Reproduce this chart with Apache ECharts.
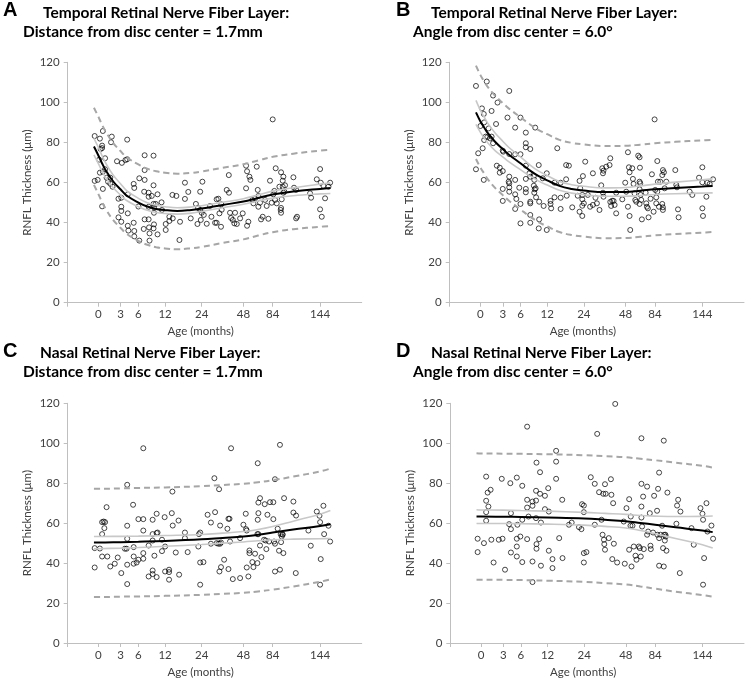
<!DOCTYPE html>
<html><head><meta charset="utf-8">
<script src="https://cdn.jsdelivr.net/npm/echarts@6/dist/echarts.min.js"></script>
<style>html,body{margin:0;padding:0;background:#fff}#c{width:747px;height:679px}</style>
</head><body><div id="c"></div>
<script>
// ---- axis definition (age in months, non-linear axis as in the figure) ----
const tickAges = [0, 3, 6, 12, 24, 48, 84, 144];
const tickLabels = ['0', '3', '6', '12', '24', '48', '84', '144'];
const tickPos = [0, 22.3, 40, 66.7, 103.3, 145, 174.3, 221.7];
const axisMin = -30.7, axisMax = 263.3;
const yTicks = [0, 20, 40, 60, 80, 100, 120];

// ---- titles ----
const panelLetters = ['A', 'B', 'C', 'D'];
const titleLine1 = ['Temporal Retinal Nerve Fiber Layer:', 'Temporal Retinal Nerve Fiber Layer:', 'Nasal Retinal Nerve Fiber Layer:', 'Nasal Retinal Nerve Fiber Layer:'];
const titleLine2 = ['Distance from disc center = 1.7mm', 'Angle from disc center = 6.0°', 'Distance from disc center = 1.7mm', 'Angle from disc center = 6.0°'];
const yName = 'RNFL Thickness (μm)';
const xName = 'Age (months)';

// ---- fitted curves (age grid + values) ----
const gridAB = [-0.6, 0, 0.5, 1, 2, 3, 4, 6, 8, 10, 12, 16, 20, 24, 36, 48, 66, 84, 110, 144, 157];
const gridCD = [-0.6, 0, 3, 6, 12, 24, 36, 48, 66, 84, 110, 144, 157];

const fitA = [78, 73.5, 69.5, 66, 60.5, 56.5, 53.5, 50, 48, 46.8, 46.2, 45.8, 46.2, 47, 48.8, 50.5, 52.3, 54, 55.5, 56.8, 57.2];
const ciUpA = [82, 77.5, 73.3, 69.6, 63.6, 59.3, 56, 52.1, 49.9, 48.6, 47.9, 47.4, 47.7, 48.4, 50.1, 51.9, 53.8, 55.7, 57.4, 59.2, 59.8];
const ciLoA = [73.8, 69.4, 65.7, 62.4, 57.4, 53.7, 51, 47.9, 46.1, 45, 44.5, 44.2, 44.6, 45.5, 47.4, 49.1, 50.8, 52.2, 53.4, 54.3, 54.5];
const piUpA = [97.3, 92.8, 88.8, 85.3, 79.7, 75.6, 72.6, 69, 66.9, 65.6, 64.9, 64.4, 64.7, 65.5, 67.3, 69.1, 71, 72.8, 74.4, 75.9, 76.3];
const piLoA = [58.8, 54.2, 50.2, 46.7, 41.2, 37.3, 34.4, 30.9, 28.9, 27.7, 27.1, 26.7, 27.1, 27.9, 29.8, 31.6, 33.5, 35.2, 36.7, 37.9, 38.3];

const fitB = [95, 90.5, 87.5, 84.6, 80.2, 76.7, 74, 69.6, 66.2, 63.3, 61.1, 58.3, 56.8, 56, 55.2, 55.3, 55.9, 56.6, 57.3, 58, 58.3];
const ciUpB = [101, 96, 92.7, 89.5, 84.6, 80.6, 77.6, 72.8, 69, 65.8, 63.5, 60.5, 58.9, 58.1, 57.3, 57.5, 58.3, 59.2, 60.2, 61.3, 61.8];
const ciLoB = [89, 85, 82.3, 79.7, 75.8, 72.8, 70.4, 66.4, 63.4, 60.8, 58.7, 56.1, 54.7, 53.9, 53.1, 53.1, 53.5, 54, 54.4, 54.7, 54.8];
const piUpB = [118.3, 113.6, 110.5, 107.6, 103.2, 99.7, 97, 92.6, 89.2, 86.3, 84.1, 81.3, 79.8, 79, 78.2, 78.3, 78.9, 79.6, 80.3, 81, 81.3];
const piLoB = [71.7, 67.4, 64.5, 61.6, 57.2, 53.7, 51, 46.6, 43.2, 40.3, 38.1, 35.3, 33.8, 33, 32.2, 32.3, 32.9, 33.6, 34.3, 35, 35.3];

const fitC = [50.3, 50.3, 50.5, 50.7, 51.1, 51.9, 52.6, 53.3, 54.2, 55.3, 56.8, 58.6, 59.5];
const ciUpC = [53.3, 53.3, 53.4, 53.5, 53.8, 54.3, 55, 55.8, 56.8, 58.3, 61, 64.5, 66.3];
const ciLoC = [47.1, 47.2, 47.5, 47.8, 48.4, 49.3, 50, 50.6, 51.2, 51.7, 52, 52.2, 52.3];
const piUpC = [77.2, 77.2, 77.4, 77.6, 77.9, 78.5, 79.1, 79.7, 80.5, 81.5, 83.3, 85.9, 87.3];
const piLoC = [23, 23, 23.2, 23.3, 23.6, 24.1, 24.6, 25.1, 25.8, 26.7, 28.3, 30.7, 31.8];

const fitD = [63.3, 63.3, 63.2, 63.1, 62.8, 62.3, 61.7, 61, 60.1, 59.2, 57.9, 56.3, 55.5];
const ciUpD = [66.7, 66.6, 66.5, 66.3, 66, 65.4, 64.9, 64.4, 63.8, 63.5, 63.3, 63.4, 63.6];
const ciLoD = [59.8, 59.8, 59.8, 59.7, 59.5, 59, 58.4, 57.6, 56.3, 54.7, 52.3, 49.2, 47.5];
const piUpD = [95, 94.9, 94.8, 94.7, 94.5, 94, 93.5, 93, 92.2, 91.5, 90.3, 88.7, 87.8];
const piLoD = [31.7, 31.7, 31.6, 31.5, 31.2, 30.6, 30, 29.3, 28.3, 27.2, 25.7, 24, 23.2];

// ---- observations [age (months), RNFL thickness (µm)] ----
const ptsA = [[-0.5,83.2],[-0.5,60.8],[-0.1,61.3],[0.2,81.9],[0.3,76.7],[0.6,85.7],[0.5,78.4],[0.5,77.2],[1.7,80.1],[1.8,82.9],[0.9,72.1],[0.1,71.4],[0.2,64.9],[0.6,65.4],[0.9,66.6],[0.6,56.8],[0.5,48.1],[1.1,62.4],[1.3,60.4],[1.6,59.4],[1.9,57.9],[1.6,62.4],[2.5,70.6],[3.2,69.8],[3.8,71.2],[4.1,71.6],[4.1,81.4],[2.7,51.9],[3.1,52.4],[3.1,47.9],[3.1,45.8],[2.7,42.6],[3.1,40.4],[4.2,54.1],[4.2,44.6],[4.2,38.4],[4.3,36],[5.2,59.3],[5.3,57.3],[5.2,39.9],[5.3,35.8],[5.3,33.1],[6,48],[6.2,62.1],[6.2,31],[7.4,61.3],[7.4,73.6],[7.4,66.2],[7.3,55.4],[7.4,41.6],[7.2,36.8],[8.3,54.9],[8.3,52.9],[8.3,41.6],[8.4,37.6],[8.5,34.6],[8.5,31],[8.3,47.9],[9,53.3],[9.4,73.4],[9.4,58.6],[9.5,47.6],[9.4,49.3],[9.5,44.9],[9.9,49.3],[9.5,39.1],[9.4,37.1],[10.3,54.1],[10.3,34.1],[11.2,50.1],[11.3,46.3],[13.4,42.9],[12.2,39.3],[12.2,36.3],[13.4,40.8],[14.5,42.1],[14.4,53.8],[15.7,53.3],[16.7,31.3],[16.9,40.4],[18.5,59.9],[18.5,51.8],[19.6,55.3],[20.4,42.1],[22.1,49.3],[22.8,47.3],[22.6,39.3],[23.5,55.4],[23.7,41.3],[23.5,46.3],[24,44.9],[24.4,60.4],[25.2,43.8],[26.9,39.4],[28.8,48.3],[29.6,42.9],[31.7,39.9],[32.6,39.9],[32.6,51.6],[33.6,51.9],[34.2,44.6],[35.3,49.1],[35.5,46.4],[35.1,37.9],[38.4,56.3],[39.7,54.9],[39.6,63.7],[40.3,44.9],[40.9,42.3],[41.9,41.3],[42.8,39.6],[43.2,44.9],[44.2,39.3],[46.1,42.1],[47.6,44.6],[51.3,68.4],[52.5,65.6],[55.4,62.9],[56.6,61.3],[51.3,57.1],[52.5,38.4],[54.1,40.4],[59,51.3],[60.3,49.6],[62.3,52.1],[64.4,67.9],[65.6,56.3],[66.4,53.3],[66.4,47.9],[68.4,49.9],[69.7,41.6],[71.7,42.9],[74.6,51.3],[76.6,48.3],[78.7,41.9],[80.7,60.9],[82.8,49.9],[84,91.5],[84.8,54.1],[86.1,55.8],[87,51.3],[87.8,67.1],[89.1,49.6],[92.5,57.9],[94.1,46.3],[95.4,51.6],[94.6,65.1],[96.7,60.9],[97.5,62.9],[96.7,57.9],[97.5,54.9],[94.6,47.3],[94.6,44.9],[99.6,58.6],[98.8,55.4],[110.2,62.6],[111,57.4],[113.6,56.3],[113.6,42.1],[114.8,42.9],[139.8,61.6],[144,66.7],[144.8,59.9],[144,46.6],[146.1,42.9],[148.2,58.3],[150.3,52.1],[154.6,57.9],[156.7,59.9],[131.3,54.6],[132.6,52.4]];

const ptsB = [[-0.6,108.2],[0.85,110.4],[-0.3,74.6],[-0.6,66.6],[0,88.2],[0.2,97],[0.45,94.2],[0.5,90],[0.3,77.1],[0.45,61.3],[0.5,81.2],[0.7,82.9],[0.9,82.6],[1.1,87],[1.3,82],[1.5,82.9],[1.7,79.6],[1.5,95.7],[1.7,103.4],[2.1,89.2],[2.3,99.9],[2.2,68.4],[2.6,67.4],[2.6,64.9],[3,75.9],[3.1,75.4],[3,65.7],[3,56.8],[3,50.8],[3.8,92.4],[4.1,105.7],[4.1,74.2],[4.1,62.9],[4,60.4],[4.1,59.6],[4.1,57.6],[4.1,55.4],[5.1,74.1],[5.1,87.4],[5.1,61.3],[5.1,54.1],[5.3,51.8],[5.1,46.8],[6,74.1],[6,92.4],[5.8,57.4],[6,49.3],[6,39.6],[7.2,84.9],[7.2,79.6],[7.2,77.6],[7.2,68.4],[7.2,61.8],[7.2,56.8],[7.2,55.1],[8,64.6],[8.2,62.9],[8.2,76.7],[8.2,50.4],[8.2,49.6],[8.2,43.8],[8.2,39.9],[9,63.2],[9.1,61.3],[9,58.4],[9.2,56.6],[9.1,54.9],[9.3,87.4],[9.4,57.1],[9.5,52.6],[10.1,68.7],[10.2,41.6],[10.1,37.1],[10.2,50.4],[11,62.1],[11.2,48.3],[11.9,64.6],[11.9,36.3],[13.1,50.8],[13.1,49.3],[13.3,47.1],[14.4,59.9],[14.4,52.6],[15.3,77.1],[16.4,59.9],[16.4,52.4],[16.4,46.8],[18.2,68.7],[19.1,68.4],[18.2,61.6],[18.4,53.4],[20.2,47.6],[22,53.4],[22.6,60.8],[22.8,57.1],[22.6,45.4],[23.5,53.8],[23.5,51.6],[23.5,48.4],[23.5,43.3],[23.7,63.2],[24,49.6],[24.8,70.4],[26.3,53.8],[27.6,47.9],[29.2,64.6],[29.2,48.8],[30.7,52.4],[31.5,49.6],[33,46.3],[34,58.6],[34.6,67.1],[35,64.6],[35.3,65.9],[35,54.9],[35.3,52.9],[36.9,67.9],[38.8,68.7],[39.2,72.1],[39.2,50.3],[39.7,48.3],[40.3,50.9],[41.1,50.8],[41.7,48.8],[42.6,54.9],[42.6,44.6],[46.1,51.6],[48.8,55.4],[47.8,59.9],[50.9,75.1],[50.9,47.9],[52.1,67.6],[52.9,65.1],[52.9,43.3],[53.7,36.3],[56.2,67.1],[57,61.8],[57.8,59.3],[59,54.6],[59.9,51.3],[61.1,50.4],[63.5,73.4],[65.2,72.6],[65.6,67.4],[65.2,60.4],[66,59.6],[65.2,56.6],[66.4,53.8],[65.2,49.3],[67.2,51.3],[68,41.6],[72.6,54.9],[73.4,49.6],[74.2,47.9],[75.4,47.1],[76.2,42.6],[78.7,51.9],[80.3,64.1],[82.4,45.4],[83.6,91.5],[84.4,56.3],[85.7,52.6],[85.7,49.6],[87,70.7],[87,55.4],[87.8,60.4],[89.1,47.9],[90.8,60.4],[93.3,63.7],[93.3,49.3],[94.1,66.2],[94.1,47.6],[94.1,46.3],[95.4,65.1],[96.3,57.1],[98.4,60.4],[109.8,66.2],[111,58.8],[111.9,57.6],[113.2,46.6],[114,42.6],[127.9,55.4],[131.3,53.8],[139.8,62.4],[144,67.6],[144,60.1],[144,47.1],[144.8,43.3],[149.1,52.9],[153.3,59.3],[157.5,61.6],[150.3,59.9]];

const ptsC = [[-0.5,37.8],[-0.5,47.5],[0.2,47.3],[0.5,60.5],[0.7,60.8],[0.9,60.5],[0.8,57.5],[0.5,54.5],[0.5,43.3],[1.2,43.3],[1.1,68],[1.6,38.3],[2.2,39.7],[2.6,42.8],[3.1,35],[3.7,47.2],[4,47.2],[4.1,79.2],[4.1,58.7],[4.1,52.2],[4.1,39.2],[4.1,29.5],[5.1,69.2],[5.2,48],[5.2,43.3],[5.2,39.7],[5.7,40.3],[6,41.7],[6,62],[7.1,62],[7.1,56.3],[7.1,45],[7.1,42.2],[7.1,97.5],[8.3,48.8],[8.3,33.3],[9.2,36.3],[9.2,34.5],[9.2,54.5],[9.2,61.7],[9.2,51.3],[9.6,43.7],[10.1,55],[10.3,55.3],[10.1,64.7],[10.1,33],[11.3,51.7],[11.3,46],[11.9,63],[12,48.3],[12,35.8],[13.3,36.7],[13.3,35.5],[13.3,31.7],[14.2,65],[14.5,58.8],[14.4,75.8],[15.5,45.3],[16.6,34.2],[16.4,61.3],[18.5,55.3],[18.5,52.5],[19.4,45.5],[22.9,48.3],[23.1,54.5],[23.5,55.3],[23.5,40.3],[23.5,29.2],[25,40.5],[27.4,64.2],[29.3,60.3],[29.3,49.7],[31.7,65.5],[31.3,82.5],[32.6,50],[33.6,49.7],[34,77],[34.6,58.8],[34.6,49.7],[35.1,50.3],[34.2,35.8],[35.1,38],[36.9,41.7],[38.8,57.2],[39.4,62.2],[40,62.2],[40.3,50.8],[39.4,37],[40.9,97.5],[41.9,32],[46.1,52.5],[46.1,32.5],[48,59.2],[50.9,64.7],[51.3,57],[52.1,56.3],[52.1,37.8],[54.1,33.3],[55.4,46.3],[55.4,45],[59,40.5],[60.3,38],[62.3,44.7],[65.2,54.5],[65.2,40],[65.6,61.7],[66.4,54.5],[66.4,65],[65.6,90],[68.4,72.5],[66.4,70.3],[68.4,48.8],[70.1,43],[73.4,51.7],[74.2,69.5],[75.4,51.3],[76.2,47],[77.5,64.2],[79.5,50.8],[80.7,70.5],[84.8,70.5],[84.8,62],[85.7,50.8],[86.9,82],[86.9,49.7],[86.9,35.8],[90.3,57.2],[92,46.2],[93.2,99.2],[93.2,36.7],[94.1,54.5],[94.6,50.5],[95.4,53.3],[96.3,54.5],[96.7,54.2],[97.5,45],[98.4,72.5],[110.2,70.8],[110.2,65.3],[113.6,63.8],[113.2,35],[129.2,56.3],[132.2,48.7],[139.8,65.8],[143.2,63.7],[144,60.5],[144,29.2],[144.8,42],[148.2,68.7],[149.1,54.5],[154.6,58.7],[156.7,50.8]];

const ptsD = [[-0.45,52.2],[-0.45,45.5],[0.4,50],[0.7,83.3],[0.7,71.2],[0.7,65.5],[0.7,61.2],[0.9,75.3],[1,68.3],[1.3,76.7],[1.4,51.7],[1.7,40.3],[2.4,51.7],[2.8,82.2],[2.9,52.2],[3.3,36.7],[4,59.5],[4.2,80],[4.3,65],[4.3,57],[4.3,45.3],[5.3,82.8],[5.3,52.2],[5.3,48.3],[5.3,43.3],[5.4,59.2],[5.9,53.3],[6.3,78.7],[6.3,40.5],[6.3,61.7],[7.4,108.3],[7.4,71.7],[7.4,52],[7.4,67.8],[7.7,63.3],[8.6,30.5],[8.6,40.8],[8.6,70.8],[8.6,68.7],[9.5,90.3],[9.4,76.2],[9.4,71.3],[9.4,62.5],[9.5,49.5],[9.5,47.2],[10.1,52],[10.3,85.5],[10.3,74.7],[10.5,60.3],[10.5,38.7],[11.4,73.7],[11.4,67],[12.2,77.5],[12.4,65.8],[12.4,46.2],[13.6,42],[13.6,37.5],[14.8,96.2],[14.8,90.8],[14.8,82.2],[15.8,52.5],[16.8,71.7],[16.9,42.5],[19,59.2],[19.9,60.3],[22.3,58],[23.1,57],[23.3,69.5],[23.9,68.8],[23.9,65.5],[23.9,45],[23.9,40.3],[25.3,45.5],[27.8,83],[30.1,79.7],[30.1,59.2],[31.5,104.7],[32.6,75.5],[34,61.7],[34.6,54.2],[35,74.7],[35.4,51.7],[35.6,49.5],[36,46.7],[36.4,74.7],[36,79.5],[38.2,52.5],[39.4,82],[39.7,74.2],[40.2,42],[40.7,70],[41.1,49.7],[41.9,119.7],[43,40.3],[46.8,60.8],[47.4,39.7],[48.8,67.5],[52.1,72],[52.1,46.7],[53.7,58.7],[54.1,63.3],[55,38.3],[56.2,58.7],[57.8,48.3],[59.9,43.7],[61.1,41.7],[64,48.3],[65.2,47.5],[66.4,43.3],[67.2,102.5],[67.2,79.7],[67.2,68.3],[67.2,62.8],[68,58.3],[69.3,73.3],[70.1,47],[74.2,78.3],[74.2,54.2],[75.4,55.8],[77.5,65],[78.3,48.7],[78.7,47],[81.5,55.3],[82.8,73.7],[86.5,66.2],[86.9,54.2],[87.8,77.2],[89.1,85.3],[89.1,52.5],[89.1,38.7],[90.8,54.2],[92.9,58.7],[94.1,47.5],[95,38.3],[95,101.3],[95.4,54.2],[96.3,51.3],[97.1,54.2],[97.5,53.3],[98.4,46.2],[99.6,75.3],[111,59.7],[111.9,68.8],[113.2,71.7],[116.1,65.8],[115.3,35],[133,49.2],[130.1,57.5],[141.5,67.5],[144,64.7],[144.8,61.7],[146.1,42.5],[144.8,29.2],[149.1,70],[150.3,55.8],[155.4,58.8],[157.5,52.2]];

// ---- map age -> position on the figure's non-linear age axis ----
function ageToAxis(a) {
  const n = tickAges.length;
  let i = 0;
  if (a <= tickAges[1]) i = 0;
  else if (a >= tickAges[n - 2]) i = n - 2;
  else { while (!(a >= tickAges[i] && a <= tickAges[i + 1])) i++; }
  const f = (a - tickAges[i]) / (tickAges[i + 1] - tickAges[i]);
  return tickPos[i] + f * (tickPos[i + 1] - tickPos[i]);
}
const toXY = pts => pts.map(p => [ageToAxis(p[0]), p[1]]);
const curve = (ages, vals) => ages.map((a, i) => [ageToAxis(a), vals[i]]);

const FONT = 'Lato, "Open Sans", sans-serif';
const grids = [
  { left: 67.7, top: 62.3, width: 294, height: 240.4 },
  { left: 449.7, top: 62.3, width: 294.3, height: 240.4 },
  { left: 67.7, top: 403.3, width: 294, height: 240 },
  { left: 450.3, top: 403.3, width: 293.7, height: 240 }
];
const panels = [
  { pts: ptsA, grid: gridAB, fit: fitA, ciU: ciUpA, ciL: ciLoA, pU: piUpA, pL: piLoA },
  { pts: ptsB, grid: gridAB, fit: fitB, ciU: ciUpB, ciL: ciLoB, pU: piUpB, pL: piLoB },
  { pts: ptsC, grid: gridCD, fit: fitC, ciU: ciUpC, ciL: ciLoC, pU: piUpC, pL: piLoC },
  { pts: ptsD, grid: gridCD, fit: fitD, ciU: ciUpD, ciL: ciLoD, pU: piUpD, pL: piLoD }
];

const xAxes = [], yAxes = [], series = [], titles = [];
panels.forEach((p, k) => {
  xAxes.push({
    type: 'value', gridIndex: k, min: axisMin, max: axisMax,
    axisLine: { show: true, onZero: false, lineStyle: { color: '#bfbfbf', width: 1 } },
    axisTick: { show: true, customValues: [axisMin].concat(tickPos), length: 4, lineStyle: { color: '#bfbfbf' } },
    axisLabel: {
      customValues: tickPos, margin: 6, color: '#404040', fontFamily: FONT, fontSize: 11.5,
      formatter: v => { let b = 0; tickPos.forEach((t, i) => { if (Math.abs(t - v) < Math.abs(tickPos[b] - v)) b = i; }); return tickLabels[b]; }
    },
    splitLine: { show: false },
    name: xName, nameLocation: 'middle', nameGap: 23,
    nameTextStyle: { color: '#404040', fontFamily: FONT, fontSize: 11.5, padding: [0, 28, 0, 0] }
  });
  yAxes.push({
    type: 'value', gridIndex: k, min: 0, max: 120, interval: 20,
    axisLine: { show: true, onZero: false, lineStyle: { color: '#bfbfbf', width: 1 } },
    axisTick: { show: true, length: 4, lineStyle: { color: '#bfbfbf' } },
    axisLabel: { margin: 8, color: '#404040', fontFamily: FONT, fontSize: 11.5 },
    splitLine: { show: false },
    name: yName, nameLocation: 'middle', nameGap: 34,
    nameTextStyle: { color: '#404040', fontFamily: FONT, fontSize: 11.5 }
  });
  series.push({
    type: 'scatter', xAxisIndex: k, yAxisIndex: k, data: toXY(p.pts),
    symbol: 'circle', symbolSize: 5,
    itemStyle: { color: 'rgba(255,255,255,0)', borderColor: '#000', borderWidth: 0.9 },
    silent: true, z: 2
  });
  const line = (vals, style, z) => ({
    type: 'line', xAxisIndex: k, yAxisIndex: k, data: curve(p.grid, vals),
    smooth: 0.4, symbol: 'none', lineStyle: style, silent: true, z: z
  });
  series.push(line(p.ciU, { color: '#c8c8c8', width: 1.6 }, 3));
  series.push(line(p.ciL, { color: '#c8c8c8', width: 1.6 }, 3));
  series.push(line(p.pU, { color: '#a6a6a6', width: 2, type: [6, 4] }, 3));
  series.push(line(p.pL, { color: '#a6a6a6', width: 2, type: [6, 4] }, 3));
  series.push(line(p.fit, { color: '#000', width: 2 }, 4));
});

const titlePos = [
  { letter: [3, 0], l1: [43, 5], l2: [23, 24] },
  { letter: [396, 0], l1: [431, 5], l2: [413, 24] },
  { letter: [3, 341], l1: [40, 345], l2: [23, 364] },
  { letter: [396, 341], l1: [431, 345], l2: [413, 364] }
];
titlePos.forEach((t, k) => {
  titles.push({ text: panelLetters[k], left: t.letter[0], top: t.letter[1], padding: 0,
    textStyle: { fontFamily: '"Liberation Sans", Arial, sans-serif', fontWeight: 'bold', fontSize: 20, color: '#000' } });
  titles.push({ text: titleLine1[k], left: t.l1[0], top: t.l1[1], padding: 0,
    textStyle: { fontFamily: FONT, fontWeight: 'bold', fontSize: 15.5, color: '#000' } });
  titles.push({ text: titleLine2[k], left: t.l2[0], top: t.l2[1], padding: 0,
    textStyle: { fontFamily: FONT, fontWeight: 'bold', fontSize: 15.5, color: '#000' } });
});

const chart = echarts.init(document.getElementById('c'), null, { renderer: 'canvas' });
chart.setOption({
  animation: false,
  backgroundColor: '#fff',
  title: titles,
  grid: grids,
  xAxis: xAxes,
  yAxis: yAxes,
  series: series
});
</script></body></html>
